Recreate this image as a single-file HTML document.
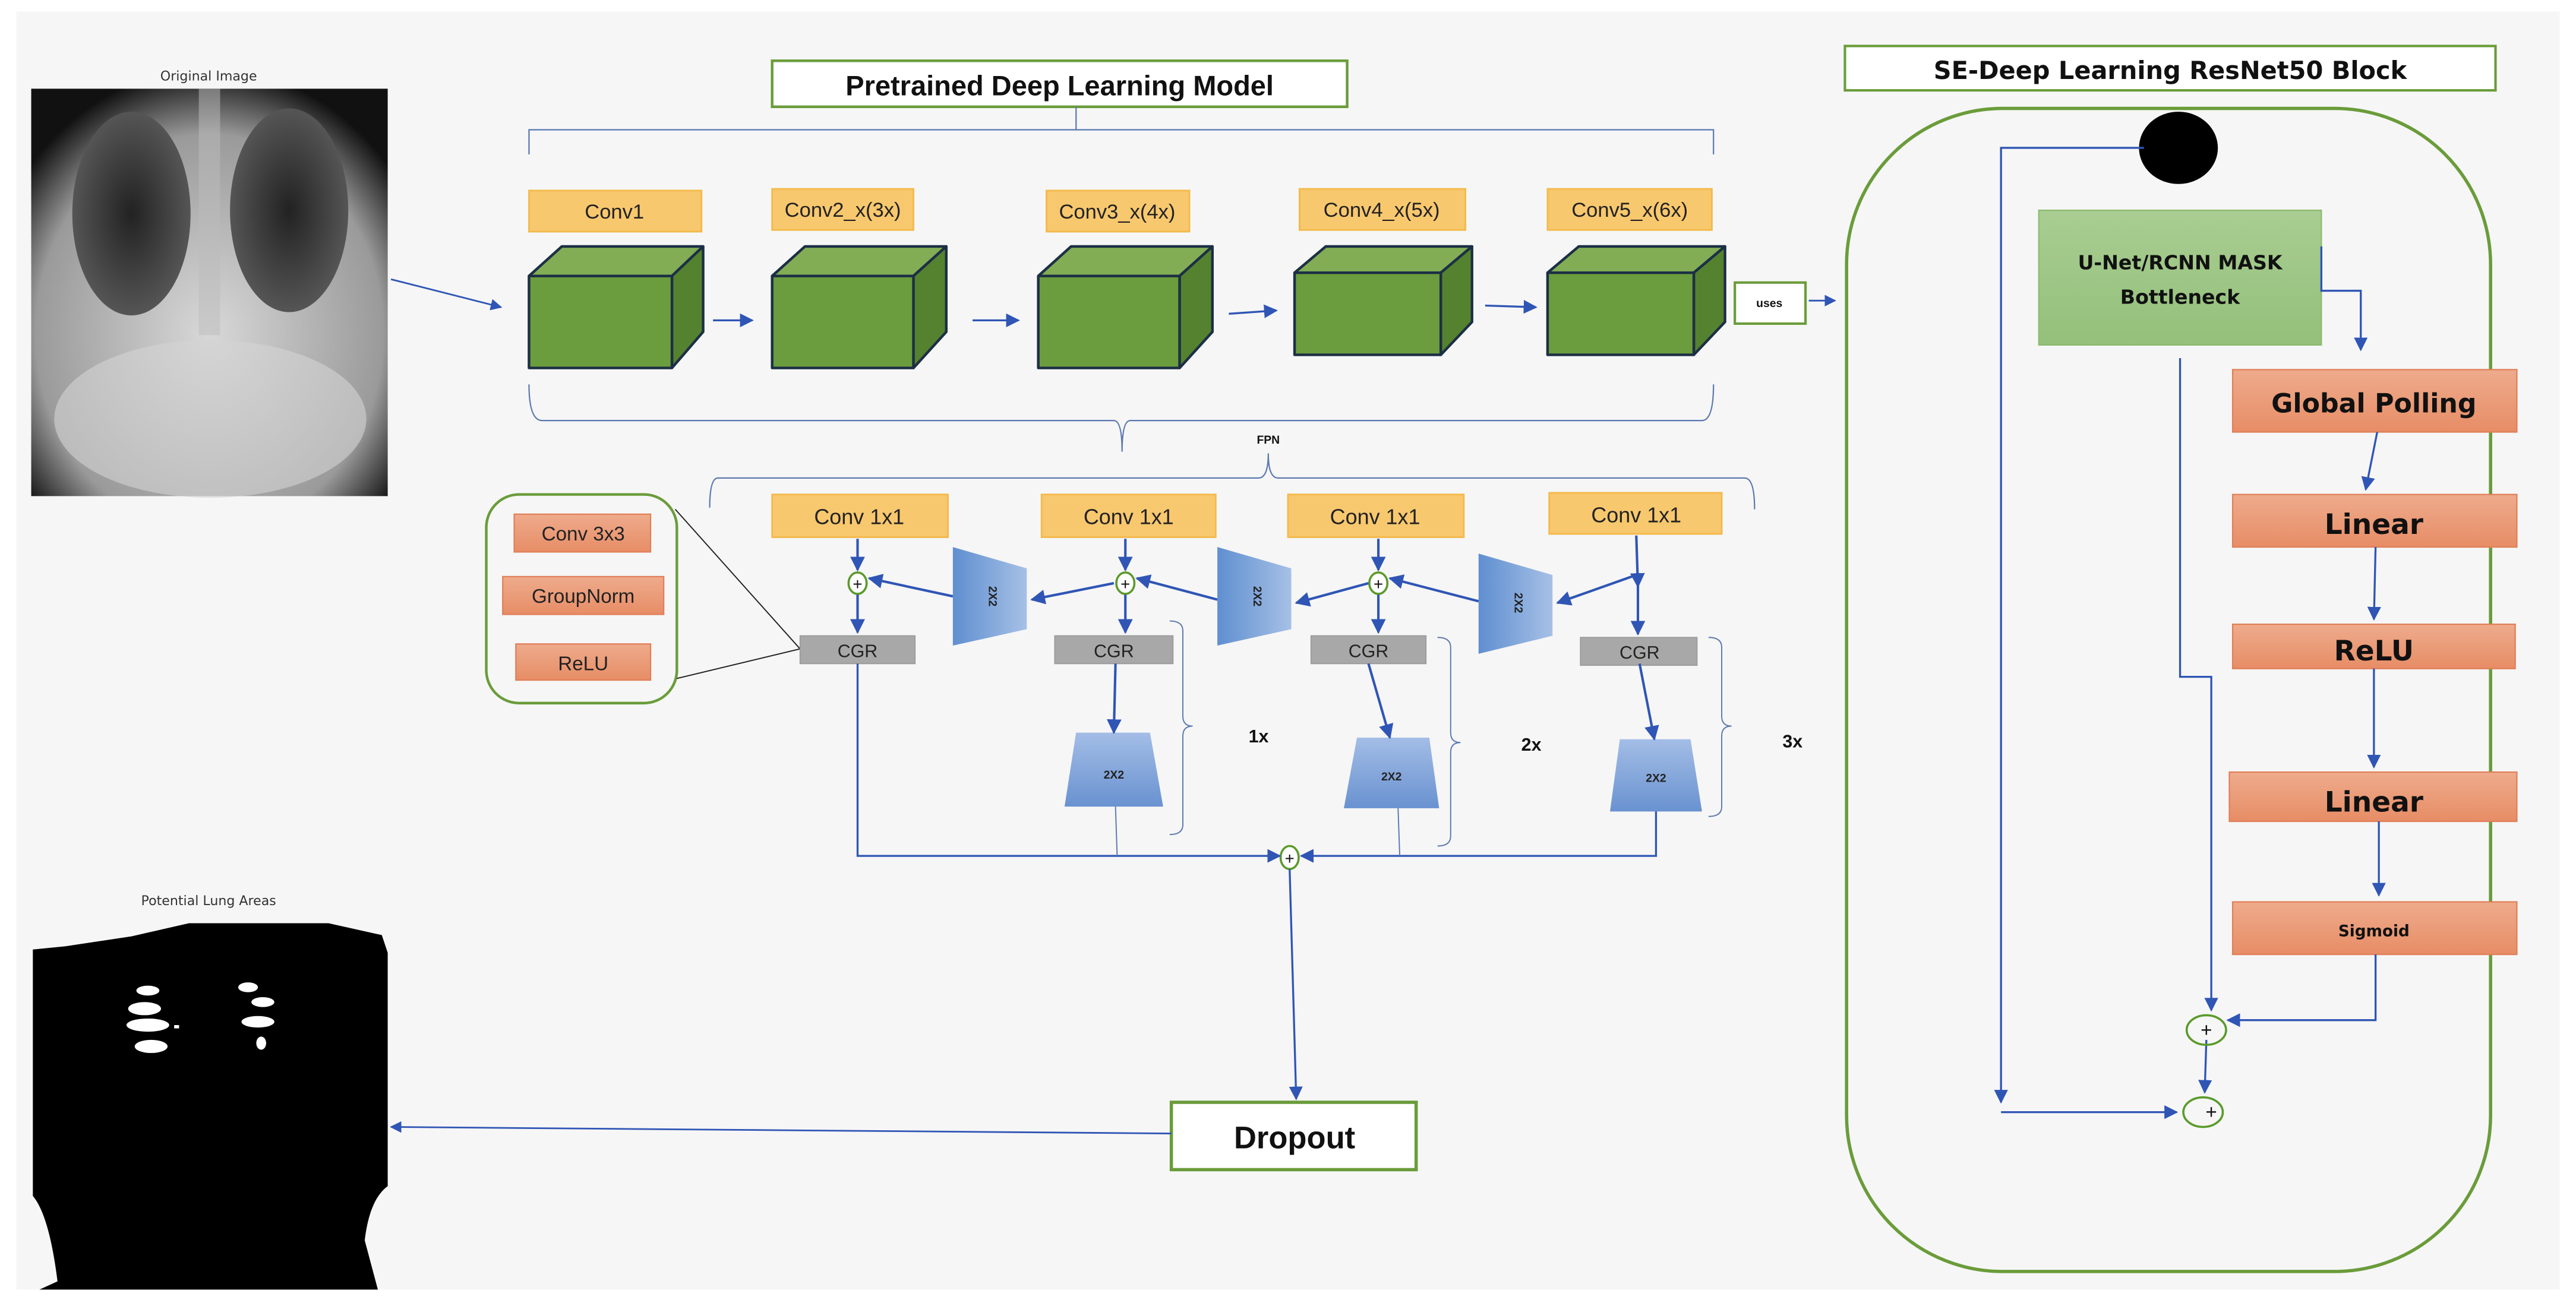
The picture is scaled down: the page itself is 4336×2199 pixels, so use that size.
<!DOCTYPE html>
<html><head><meta charset="utf-8"><style>
html,body{margin:0;padding:0;background:#fff;}
svg{display:block;}
text{font-family:"Liberation Sans",sans-serif;}
.dv{font-family:"DejaVu Sans",sans-serif;}
</style></head><body>
<svg width="4336" height="2199" viewBox="0 0 1568 795" preserveAspectRatio="none" xmlns="http://www.w3.org/2000/svg">
<defs>
<marker id="ar" viewBox="0 0 10 10" refX="9" refY="5" markerWidth="7" markerHeight="7" orient="auto"><path d="M0,0 L10,5 L0,10 z" fill="#2f55b5"/></marker>
<marker id="ar2" viewBox="0 0 10 10" refX="9" refY="5" markerWidth="6" markerHeight="6" orient="auto"><path d="M0,0 L10,5 L0,10 z" fill="#2f55b5"/></marker>
<linearGradient id="or" x1="0" y1="0" x2="0" y2="1"><stop offset="0" stop-color="#eeab8c"/><stop offset="1" stop-color="#e78d66"/></linearGradient>
<linearGradient id="gr" x1="0" y1="0" x2="0" y2="1"><stop offset="0" stop-color="#a9cd92"/><stop offset="1" stop-color="#93c07a"/></linearGradient>
<linearGradient id="bl" x1="0" y1="0" x2="1" y2="0"><stop offset="0" stop-color="#5f8fd0"/><stop offset="1" stop-color="#a6c0e6"/></linearGradient>
<linearGradient id="bl2" x1="0" y1="0" x2="0" y2="1"><stop offset="0" stop-color="#a3bde6"/><stop offset="1" stop-color="#6992d0"/></linearGradient>
<radialGradient id="xr" cx="0.5" cy="0.6" r="0.65"><stop offset="0" stop-color="#d8d8d8"/><stop offset="0.75" stop-color="#9a9a9a"/><stop offset="1" stop-color="#111"/></radialGradient>
<radialGradient id="lung" cx="0.5" cy="0.5" r="0.5"><stop offset="0" stop-color="#222"/><stop offset="1" stop-color="#555"/></radialGradient>
</defs>
<rect x="0" y="0" width="1568" height="795" fill="#fff"/>
<rect x="10" y="7" width="1548" height="778" fill="#f6f6f6"/>

<!-- Original image -->
<text class="dv" x="127" y="49" font-size="8" text-anchor="middle" fill="#333">Original Image</text>
<rect x="19" y="54" width="217" height="248" fill="url(#xr)"/>
<ellipse cx="80" cy="130" rx="36" ry="62" fill="url(#lung)"/>
<ellipse cx="176" cy="128" rx="36" ry="62" fill="url(#lung)"/>
<ellipse cx="128" cy="255" rx="95" ry="48" fill="#d4d4d4" opacity="0.6"/>
<rect x="121" y="54" width="13" height="150" fill="#bbb" opacity="0.5"/>
<path d="M238,170 L305,187" stroke="#2f55b5" stroke-width="1" fill="none" marker-end="url(#ar)"/>

<!-- Lung mask -->
<text class="dv" x="127" y="551" font-size="8" text-anchor="middle" fill="#333">Potential Lung Areas</text>
<path d="M20,578 L40,576 L80,570 L115,562 L230,562 L236,580 L236,722 Q225,730 222,755 L230,785 L24,785 L35,780 Q30,740 20,728 Z" fill="#000"/>
<path d="M200,562 L236,570 L236,562 Z" fill="#f6f6f6"/>
<g fill="#fff">
<ellipse cx="90" cy="603" rx="7" ry="3"/><ellipse cx="88" cy="614" rx="10" ry="4"/><ellipse cx="90" cy="624" rx="13" ry="4"/><ellipse cx="92" cy="637" rx="10" ry="4"/>
<ellipse cx="151" cy="601" rx="6" ry="3"/><ellipse cx="160" cy="610" rx="7" ry="3"/><ellipse cx="157" cy="622" rx="10" ry="3.5"/><ellipse cx="159" cy="635" rx="3" ry="4"/>
<rect x="106" y="624" width="3" height="2"/></g>

<!-- Dropout -->
<rect x="713" y="671" width="149" height="41" fill="#fff" stroke="#6a9c3a" stroke-width="2"/>
<text x="788" y="699" font-size="19" font-weight="bold" text-anchor="middle" fill="#111">Dropout</text>
<path d="M713,690 L238,686" stroke="#2f55b5" stroke-width="1" fill="none" marker-end="url(#ar)"/>

<!-- Pretrained title -->
<rect x="470" y="37" width="350" height="28" fill="#fff" stroke="#6a9c3a" stroke-width="1.6"/>
<text x="645" y="58" font-size="17" font-weight="bold" text-anchor="middle" fill="#111">Pretrained Deep Learning Model</text>
<path d="M655,65 V79 M322,94 V79 H1043 V94" stroke="#5a78b0" stroke-width="0.8" fill="none"/>

<!-- Conv labels -->
<g fill="#f8c86e" stroke="#f3b94a" stroke-width="1">
<rect x="322" y="116" width="105" height="25"/><rect x="470" y="115" width="86" height="25"/>
<rect x="637" y="116" width="87" height="25"/><rect x="791" y="115" width="101" height="25"/>
<rect x="942" y="115" width="100" height="25"/></g>
<g font-size="12.5" text-anchor="middle" fill="#222">
<text x="374" y="133">Conv1</text><text x="513" y="132">Conv2_x(3x)</text>
<text x="680" y="133">Conv3_x(4x)</text><text x="841" y="132">Conv4_x(5x)</text><text x="992" y="132">Conv5_x(6x)</text></g>

<!-- Cubes -->
<g stroke="#1c2f45" stroke-width="1.6" stroke-linejoin="round">
<path d="M322,168 L342,150 L428,150 L409,168 Z" fill="#82ad55"/><path d="M409,168 L428,150 L428,202 L409,224 Z" fill="#55822f"/><rect x="322" y="168" width="87" height="56" fill="#6b9c3d"/>
<path d="M470,168 L490,150 L576,150 L556,168 Z" fill="#82ad55"/><path d="M556,168 L576,150 L576,202 L556,224 Z" fill="#55822f"/><rect x="470" y="168" width="86" height="56" fill="#6b9c3d"/>
<path d="M632,168 L652,150 L738,150 L718,168 Z" fill="#82ad55"/><path d="M718,168 L738,150 L738,202 L718,224 Z" fill="#55822f"/><rect x="632" y="168" width="86" height="56" fill="#6b9c3d"/>
<path d="M788,166 L807,150 L896,150 L877,166 Z" fill="#82ad55"/><path d="M877,166 L896,150 L896,196 L877,216 Z" fill="#55822f"/><rect x="788" y="166" width="89" height="50" fill="#6b9c3d"/>
<path d="M942,166 L961,150 L1050,150 L1031,166 Z" fill="#82ad55"/><path d="M1031,166 L1050,150 L1050,196 L1031,216 Z" fill="#55822f"/><rect x="942" y="166" width="89" height="50" fill="#6b9c3d"/>
</g>
<g stroke="#2f55b5" stroke-width="1.2" fill="none" marker-end="url(#ar)">
<path d="M434,195 H458"/><path d="M592,195 H620"/><path d="M748,191 L777,189"/><path d="M904,186 L935,187"/>
</g>
<rect x="1056" y="172" width="43" height="25" fill="#fff" stroke="#6a9c3a" stroke-width="1.5"/>
<text x="1077" y="187" font-size="7" font-weight="bold" text-anchor="middle" fill="#111">uses</text>
<path d="M1101,183 H1117" stroke="#2f55b5" stroke-width="1" marker-end="url(#ar)"/>

<!-- braces -->
<path d="M322,234 Q322,256 330,256 L678,256 Q683,256 683,275 Q683,256 688,256 L1036,256 Q1043,256 1043,234" stroke="#5a78b0" stroke-width="0.8" fill="none"/>
<text x="772" y="270" font-size="7" font-weight="bold" text-anchor="middle" fill="#111">FPN</text>
<path d="M772,276 Q772,291 766,291 L437,291 Q432,291 432,309 M772,276 Q772,291 778,291 L1062,291 Q1068,291 1068,310" stroke="#5a78b0" stroke-width="0.8" fill="none"/>

<!-- CGR detail box -->
<rect x="296" y="301" width="116" height="127" rx="20" fill="none" stroke="#6a9c3a" stroke-width="1.6"/>
<g fill="url(#or)" stroke="#e07f58" stroke-width="0.8">
<rect x="313" y="313" width="83" height="23"/><rect x="306" y="351" width="98" height="23"/><rect x="314" y="392" width="82" height="22"/></g>
<g font-size="12" text-anchor="middle" fill="#222"><text x="355" y="329">Conv 3x3</text><text x="355" y="367">GroupNorm</text><text x="355" y="408">ReLU</text></g>
<path d="M411,310 L487,395 L412,413" stroke="#222" stroke-width="0.7" fill="none"/>

<!-- FPN conv1x1 -->
<g fill="#f8c86e" stroke="#f3b94a" stroke-width="1">
<rect x="470" y="301" width="107" height="26"/><rect x="634" y="301" width="106" height="26"/>
<rect x="784" y="301" width="107" height="26"/><rect x="943" y="300" width="105" height="25"/></g>
<g font-size="13" text-anchor="middle" fill="#222">
<text x="523" y="319">Conv 1x1</text><text x="687" y="319">Conv 1x1</text><text x="837" y="319">Conv 1x1</text><text x="996" y="318">Conv 1x1</text></g>

<!-- CGR -->
<g fill="#a8a8a8" stroke="#999" stroke-width="0.6">
<rect x="487" y="387" width="70" height="17"/><rect x="642" y="387" width="72" height="17"/>
<rect x="798" y="387" width="70" height="17"/><rect x="962" y="388" width="71" height="17"/></g>
<g font-size="11" text-anchor="middle" fill="#222">
<text x="522" y="400">CGR</text><text x="678" y="400">CGR</text><text x="833" y="400">CGR</text><text x="998" y="401">CGR</text></g>

<!-- horizontal trapezoids -->
<path d="M580,333 L625,346 L625,383 L580,393 Z" fill="url(#bl)"/>
<path d="M741,333 L786,346 L786,383 L741,393 Z" fill="url(#bl)"/>
<path d="M900,337 L945,350 L945,387 L900,398 Z" fill="url(#bl)"/>
<g font-size="7" font-weight="bold" fill="#222" text-anchor="middle">
<text transform="translate(602,363) rotate(90)">2X2</text><text transform="translate(763,363) rotate(90)">2X2</text><text transform="translate(922,367) rotate(90)">2X2</text></g>

<!-- vertical trapezoids -->
<path d="M655,446 L700,446 L708,491 L648,491 Z" fill="url(#bl2)"/>
<path d="M826,449 L870,449 L876,492 L818,492 Z" fill="url(#bl2)"/>
<path d="M986,450 L1029,450 L1036,494 L980,494 Z" fill="url(#bl2)"/>
<g font-size="7" font-weight="bold" fill="#222" text-anchor="middle"><text x="678" y="474">2X2</text><text x="847" y="475">2X2</text><text x="1008" y="476">2X2</text></g>

<!-- plus circles -->
<g fill="#fff" stroke="#5a9a2a" stroke-width="1.3">
<ellipse cx="522" cy="355" rx="5.5" ry="6.5"/><ellipse cx="685" cy="355" rx="5.5" ry="6.5"/><ellipse cx="839" cy="355" rx="5.5" ry="6.5"/><ellipse cx="785" cy="522" rx="5.5" ry="7"/></g>
<g font-size="10" text-anchor="middle" fill="#111"><text x="522" y="359">+</text><text x="685" y="359">+</text><text x="839" y="359">+</text><text x="785" y="526">+</text></g>

<!-- FPN arrows -->
<g stroke="#2f55b5" stroke-width="1.5" fill="none" marker-end="url(#ar2)">
<path d="M522,328 V347"/><path d="M522,362 V385"/>
<path d="M685,328 V347"/><path d="M685,362 V385"/>
<path d="M839,328 V347"/><path d="M839,362 V385"/>
<path d="M996,326 L997,357"/><path d="M997,356 V386"/>
<path d="M580,363 L529,352"/><path d="M678,355 L628,365"/>
<path d="M741,365 L692,352"/><path d="M833,355 L789,367"/>
<path d="M900,366 L846,352"/><path d="M996,350 L948,367"/>
<path d="M679,404 L678,446"/><path d="M833,404 L846,449"/><path d="M998,404 L1007,450"/>
</g>
<g stroke="#2f55b5" stroke-width="1.2" fill="none">
<path d="M522,404 V521 H779" marker-end="url(#ar)"/><path d="M1008,494 V521 H792" marker-end="url(#ar)"/>
<path d="M785,529 L789,669" marker-end="url(#ar)"/>
</g>
<path d="M679,491 L680,521 M851,492 L852,521" stroke="#5a78b0" stroke-width="0.7"/>

<!-- side braces -->
<g stroke="#5a78b0" stroke-width="0.7" fill="none">
<path d="M712,378 Q720,378 720,384 L720,436 Q720,442 726,442 Q720,442 720,448 L720,502 Q720,508 712,508"/>
<path d="M875,388 Q883,388 883,394 L883,446 Q883,452 889,452 Q883,452 883,458 L883,509 Q883,515 875,515"/>
<path d="M1040,388 Q1048,388 1048,394 L1048,436 Q1048,442 1054,442 Q1048,442 1048,448 L1048,491 Q1048,497 1040,497"/>
</g>
<g font-size="11" font-weight="bold" fill="#111"><text x="760" y="452">1x</text><text x="926" y="457">2x</text><text x="1085" y="455">3x</text></g>

<!-- Right panel -->
<rect x="1123" y="28" width="396" height="27" fill="#fff" stroke="#6a9c3a" stroke-width="1.5"/>
<text class="dv" x="1321" y="48" font-size="15" font-weight="bold" text-anchor="middle" fill="#111">SE-Deep Learning ResNet50 Block</text>
<rect x="1124" y="66" width="392" height="708" rx="95" fill="none" stroke="#6a9c3a" stroke-width="2"/>
<ellipse cx="1326" cy="90" rx="24" ry="22" fill="#000"/>
<rect x="1241" y="128" width="172" height="82" fill="url(#gr)" stroke="#8dbb70" stroke-width="0.8"/>
<text class="dv" x="1327" y="164" font-size="12" font-weight="bold" text-anchor="middle" fill="#111">U-Net/RCNN MASK</text>
<text class="dv" x="1327" y="185" font-size="12" font-weight="bold" text-anchor="middle" fill="#111">Bottleneck</text>
<g fill="url(#or)" stroke="#e07f58" stroke-width="0.8">
<rect x="1359" y="225" width="173" height="38"/><rect x="1359" y="301" width="173" height="32"/>
<rect x="1359" y="380" width="172" height="27"/><rect x="1357" y="470" width="175" height="30"/><rect x="1359" y="549" width="173" height="32"/></g>
<g class="dv" font-weight="bold" text-anchor="middle" fill="#111">
<text class="dv" x="1445" y="251" font-size="16">Global Polling</text><text class="dv" x="1445" y="325" font-size="17">Linear</text>
<text class="dv" x="1445" y="402" font-size="17">ReLU</text><text class="dv" x="1445" y="494" font-size="17">Linear</text><text class="dv" x="1445" y="570" font-size="9.5">Sigmoid</text></g>
<g stroke="#2f55b5" stroke-width="1.2" fill="none">
<path d="M1305,90 H1218 V671" marker-end="url(#ar)"/>
<path d="M1218,677 H1325" marker-end="url(#ar)"/>
<path d="M1413,150 V177 H1437 V213" marker-end="url(#ar)"/>
<path d="M1447,263 L1440,298" marker-end="url(#ar)"/>
<path d="M1446,333 L1445,377" marker-end="url(#ar)"/>
<path d="M1445,407 V467" marker-end="url(#ar)"/>
<path d="M1448,500 V545" marker-end="url(#ar)"/>
<path d="M1327,218 V412 H1346 V615" marker-end="url(#ar)"/>
<path d="M1446,581 V621 H1356" marker-end="url(#ar)"/>
<path d="M1343,633 L1342,665" marker-end="url(#ar)"/>
</g>
<g fill="none" stroke="#5a9a2a" stroke-width="1.3">
<ellipse cx="1343" cy="627" rx="12" ry="9"/><ellipse cx="1341" cy="677" rx="12" ry="9"/></g>
<g font-size="12" text-anchor="middle" fill="#111"><text x="1343" y="631">+</text><text x="1346" y="681">+</text></g>
</svg>
</body></html>
